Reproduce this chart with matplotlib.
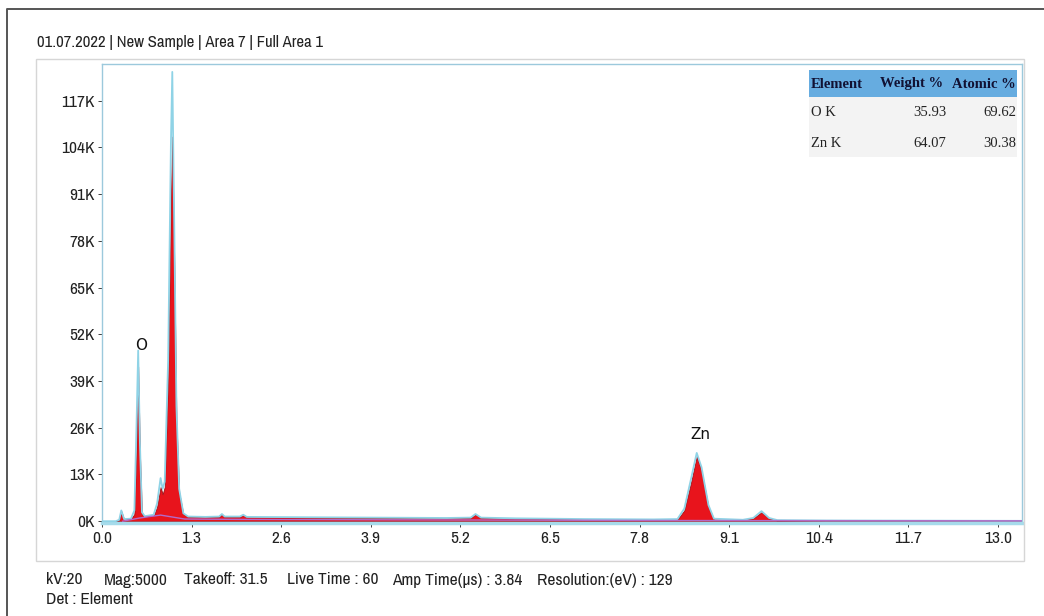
import numpy as np
import matplotlib.pyplot as plt
from matplotlib.patches import Rectangle
from matplotlib.lines import Line2D

W, H = 1044, 616

# spectrum read as (keV, kcounts); "counts" is the measured outline, "fit" the filled area
energy = [0.00, 0.20, 0.25, 0.28, 0.32, 0.42, 0.47, 0.50, 0.525, 0.55, 0.58, 0.62,
          0.75, 0.80, 0.85, 0.88, 0.91, 0.96, 1.00, 1.02, 1.05, 1.08, 1.12, 1.18,
          1.25, 1.50, 1.70, 1.74, 1.78, 2.00, 2.05, 2.10, 3.00, 4.00, 5.00, 5.35,
          5.42, 5.50, 6.00, 7.00, 8.00, 8.35, 8.45, 8.55, 8.63, 8.70, 8.80, 8.88,
          9.30, 9.45, 9.57, 9.68, 9.80, 10.50, 13.35]
counts = [0.0, 0.0, 0.4, 3.0, 0.6, 0.7, 3.0, 26.0, 47.5, 22.0, 2.5, 1.4,
          1.8, 5.0, 12.0, 9.0, 11.0, 45.0, 105.0, 125.0, 80.0, 32.0, 9.0, 2.2,
          1.3, 1.2, 1.3, 2.0, 1.3, 1.3, 1.8, 1.2, 1.1, 1.0, 0.9, 1.0,
          2.0, 1.0, 0.8, 0.6, 0.5, 0.6, 3.5, 12.0, 19.0, 15.0, 4.5, 0.7,
          0.4, 0.9, 2.8, 0.9, 0.3, 0.2, 0.1]
fit = [0.0, 0.0, 0.3, 2.8, 0.5, 0.6, 2.0, 20.0, 43.0, 19.0, 2.0, 1.2,
       1.5, 4.0, 9.5, 7.5, 9.5, 40.0, 90.0, 107.0, 70.0, 28.0, 8.0, 2.0,
       1.2, 1.1, 1.2, 1.9, 1.2, 1.2, 1.7, 1.1, 1.0, 0.9, 0.8, 0.9,
       1.9, 0.9, 0.7, 0.5, 0.4, 0.5, 3.0, 11.0, 18.0, 14.0, 4.0, 0.5,
       0.3, 0.8, 2.5, 0.8, 0.2, 0.1, 0.0]
bg_energy = [0.30, 0.55, 0.85, 1.20, 2.00, 4.00, 8.00, 13.35]
bg_counts = [0.0, 0.9, 1.7, 0.6, 0.5, 0.4, 0.2, 0.1]

peak_labels = ["O", "Zn"]
peak_label_x = [0.57, 8.69]
peak_label_y = [49.0, 24.2]

xticks = [0.0, 1.3, 2.6, 3.9, 5.2, 6.5, 7.8, 9.1, 10.4, 11.7, 13.0]
yticks = [0, 13, 26, 39, 52, 65, 78, 91, 104, 117]

tbl_header = ["Element", "Weight %", "Atomic %"]
tbl_element = ["O K", "Zn K"]
tbl_weight = ["35.93", "64.07"]
tbl_atomic = ["69.62", "30.38"]

title = "01.07.2022 | New Sample | Area 7 | Full Area 1"
info = ["kV:20", "Mag:5000", "Takeoff: 31.5", "Live Time : 60",
        "Amp Time(\u00b5s) : 3.84", "Resolution:(eV) : 129"]
info_x = [46, 104, 184, 287, 392, 537]

sans = ["Liberation Sans Narrow", "Archivo Narrow", "DejaVu Sans"]
serif = ["Liberation Serif", "DejaVu Serif"]
plt.rcParams["font.family"] = sans


def fx(x):
    return x / W


def fy(y):
    return 1 - y / H


fig = plt.figure(figsize=(W / 100, H / 100), dpi=100)

# outer frame (only its top and left edges fall inside the image)
fig.lines.append(Line2D([fx(7), fx(7), fx(W + 5)], [fy(H + 5), fy(9), fy(9)],
                        transform=fig.transFigure, color="#555555",
                        linewidth=1.4))
# light panel behind the plot
fig.patches.append(Rectangle((fx(36), fy(561)), fx(1024 - 36), (561 - 59) / H,
                             transform=fig.transFigure, fill=False,
                             edgecolor="#d6d6d6", linewidth=1.0))

ax = fig.add_axes([fx(102), fy(523), fx(1022 - 102), (523 - 64) / H])
ax.set_xlim(0, 13.35)
ax.set_ylim(-0.5, 127.2)

ax.fill_between(energy, fit, 0, color="#e8141c", linewidth=0.6,
                edgecolor="#9c1018", zorder=2)
ax.plot(energy, counts, color="#8fd3e6", linewidth=1.3, zorder=3)
ax.plot(bg_energy, bg_counts, color="#b36ac8", linewidth=1.0, zorder=4)

for lbl, xp, yp in zip(peak_labels, peak_label_x, peak_label_y):
    ax.text(xp, yp, lbl, ha="center", va="center", fontsize=11,
            family=["DejaVu Sans"], weight="medium", color="#111111",
            zorder=5)

ax.set_xticks(xticks)
ax.set_xticklabels([f"{v:.1f}" for v in xticks])
ax.set_yticks(yticks)
ax.set_yticklabels([f"{v}K" for v in yticks])
ax.tick_params(axis="both", labelsize=12.5, colors="#222222", length=3,
               width=0.6, pad=2)
ax.tick_params(axis="x", pad=3)
for side in ["left", "top", "right"]:
    ax.spines[side].set_color("#9cc9dc")
    ax.spines[side].set_linewidth(1.0)
ax.spines["bottom"].set_color("#a6dbeb")
ax.spines["bottom"].set_linewidth(2.5)

# quantification table
fig.patches.append(Rectangle((fx(809), fy(97)), fx(1017 - 809), 27 / H,
                             transform=fig.transFigure, facecolor="#66ace0",
                             edgecolor="none"))
fig.patches.append(Rectangle((fx(809), fy(157)), fx(1017 - 809), 60 / H,
                             transform=fig.transFigure, facecolor="#f3f3f3",
                             edgecolor="none"))
fig.text(fx(811), fy(84), tbl_header[0], fontsize=10.5, weight="bold",
         family=serif, va="center", ha="left", color="#111133")
fig.text(fx(943), fy(84), tbl_header[1], fontsize=10.5, weight="bold",
         family=serif, va="center", ha="right", color="#111133")
fig.text(fx(1016), fy(84), tbl_header[2], fontsize=10.5, weight="bold",
         family=serif, va="center", ha="right", color="#111133")
for i, row_y in enumerate([113, 143]):
    fig.text(fx(811), fy(row_y), tbl_element[i], fontsize=10.5, family=serif,
             va="center", ha="left", color="#222222")
    fig.text(fx(946), fy(row_y), tbl_weight[i], fontsize=10.5, family=serif,
             va="center", ha="right", color="#222222")
    fig.text(fx(1016), fy(row_y), tbl_atomic[i], fontsize=10.5, family=serif,
             va="center", ha="right", color="#222222")

fig.text(fx(37), fy(43), title, fontsize=12, va="center", ha="left",
         color="#222222")
for s, xp in zip(info, info_x):
    fig.text(fx(xp), fy(580), s, fontsize=12.5, va="center", ha="left",
             color="#222222")
fig.text(fx(46), fy(599), "Det : Element", fontsize=12.5, va="center",
         ha="left", color="#222222")

fig.savefig("out.png", dpi=100, facecolor="white")
